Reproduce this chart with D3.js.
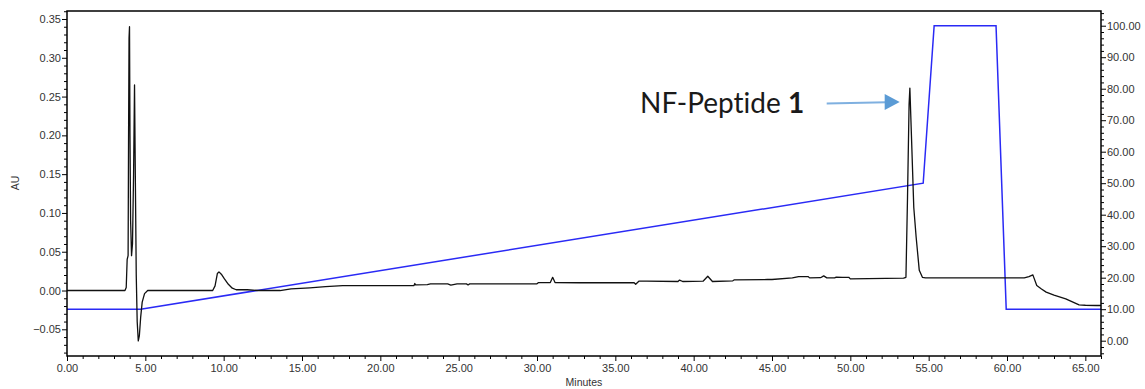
<!DOCTYPE html>
<html>
<head>
<meta charset="utf-8">
<script src="https://cdn.jsdelivr.net/npm/d3@7"></script>
<style>
  html, body { margin: 0; padding: 0; background: #fff; }
  svg { display: block; }
  .tick text { font-family: "Liberation Sans", Arial, sans-serif; font-size: 11px; fill: #333; }
</style>
</head>
<body>
<svg id="chart" width="1145" height="389"></svg>
<script>
// ---------------- DATA ----------------
// UV trace (AU) vs retention time (minutes)
const traceTime = [0, 3.70, 3.78, 3.84, 3.90, 3.93, 3.96, 3.99, 4.02, 4.06, 4.12, 4.18, 4.25, 4.31, 4.36, 4.42, 4.48, 4.55, 4.62, 4.70, 4.80, 4.95, 5.15,
  9.30, 9.45, 9.60, 9.70, 9.85, 10.05, 10.30, 10.55, 10.80, 11.50, 12.20, 13.60, 14.30, 15.50, 16.50, 17.60,
  22.15, 22.20, 22.25, 23.00, 23.20, 24.30, 24.50, 24.90, 25.50, 25.60, 25.70, 30.00, 30.10, 30.85, 31.00, 31.15, 32.70,
  36.20, 36.30, 36.50, 37.00, 39.00, 39.10, 39.30, 40.60, 40.90, 41.20, 42.50, 42.60, 44.50, 44.70, 45.00, 46.30, 46.70, 47.30, 47.40,
  48.10, 48.30, 48.50, 49.00, 49.10, 49.50, 49.90, 50.00, 53.40, 53.55, 53.65, 53.75, 53.80, 53.90, 54.05, 54.20, 54.40, 54.60, 54.80,
  61.10, 61.40, 61.65, 61.90, 62.20, 62.50, 63.00, 63.75, 64.60, 65.00, 65.70, 66.00];
const traceAU = [0, 0, 0.004, 0.040, 0.045, 0.200, 0.325, 0.340, 0.200, 0.090, 0.045, 0.060, 0.150, 0.265, 0.150, 0.020, -0.040, -0.065, -0.058, -0.035, -0.015, -0.004, 0,
  0, 0.006, 0.022, 0.024, 0.021, 0.015, 0.008, 0.003, 0.001, 0.001, 0, 0, 0.002, 0.0035, 0.005, 0.0064,
  0.0064, 0.0090, 0.0072, 0.0075, 0.0086, 0.0086, 0.0070, 0.0086, 0.0086, 0.0072, 0.0086, 0.0086, 0.0103, 0.0103, 0.0170, 0.0103, 0.0100,
  0.0100, 0.0080, 0.0120, 0.0120, 0.0116, 0.0135, 0.0116, 0.0120, 0.0184, 0.0116, 0.0125, 0.0138, 0.0140, 0.0142, 0.0142, 0.0163, 0.0180, 0.0180, 0.0163,
  0.0165, 0.0189, 0.0163, 0.0163, 0.0172, 0.0170, 0.0170, 0.0150, 0.0159, 0.0170, 0.1200, 0.2400, 0.2610, 0.2000, 0.1070, 0.0690, 0.0260, 0.0170, 0.0164,
  0.0164, 0.0180, 0.0202, 0.0064, 0.0020, -0.0021, -0.0060, -0.0107, -0.0184, -0.0190, -0.0193, -0.0193];

// Solvent gradient (%B) vs time
const gradTime = [0, 4.70, 54.65, 55.35, 59.30, 59.95, 66.00];
const gradPct  = [10, 10, 50, 100, 100, 10, 10];

// Axes
const xMajorTicks = [0, 5, 10, 15, 20, 25, 30, 35, 40, 45, 50, 55, 60, 65];
const yLeftTicks  = [-0.05, 0.00, 0.05, 0.10, 0.15, 0.20, 0.25, 0.30, 0.35];
const yRightTicks = [0, 10, 20, 30, 40, 50, 60, 70, 80, 90, 100];
const xTitle = "Minutes";
const yLeftTitle = "AU";

// Annotation
const annotText = "NF-Peptide ";
const annotBold = "1";
const annotTipTime = 53.15, annotTipAU = 0.243;

// ---------------- CHART ----------------
const svg = d3.select("#chart");
const L = 67, R = 1101, T = 11, B = 356;

const x  = d3.scaleLinear().domain([0, 66]).range([L, R]);
const yL = d3.scaleLinear().domain([-0.0844, 0.3603]).range([B, T]);
const yR = d3.scaleLinear().domain([-4.86, 104.67]).range([B, T]);

const minorX = d3.range(0, 67, 1).filter(v => v % 5 !== 0);
const minorYL = d3.range(-8, 37, 1).map(v => v / 100).filter(v => Math.round(v * 100) % 5 !== 0);
const minorYR = d3.range(-4, 105, 2).filter(v => v % 10 !== 0);

// minor ticks
svg.append("g").attr("transform", `translate(0,${B})`)
  .call(d3.axisBottom(x).tickValues(minorX).tickSize(3).tickFormat(""))
  .call(g => g.select(".domain").remove());
svg.append("g").attr("transform", `translate(${L},0)`)
  .call(d3.axisLeft(yL).tickValues(minorYL).tickSize(3).tickFormat(""))
  .call(g => g.select(".domain").remove());
svg.append("g").attr("transform", `translate(${R},0)`)
  .call(d3.axisRight(yR).tickValues(minorYR).tickSize(3).tickFormat(""))
  .call(g => g.select(".domain").remove());

// major ticks
svg.append("g").attr("transform", `translate(0,${B})`)
  .call(d3.axisBottom(x).tickValues(xMajorTicks).tickSize(5).tickPadding(3).tickFormat(d3.format(".2f")))
  .call(g => g.select(".domain").remove());
svg.append("g").attr("transform", `translate(${L},0)`)
  .call(d3.axisLeft(yL).tickValues(yLeftTicks).tickSize(5).tickPadding(1).tickFormat(d3.format(".2f")))
  .call(g => g.select(".domain").remove());
svg.append("g").attr("transform", `translate(${R},0)`)
  .call(d3.axisRight(yR).tickValues(yRightTicks).tickSize(5).tickPadding(1).tickFormat(d3.format(".2f")))
  .call(g => g.select(".domain").remove());

// gradient line (blue)
svg.append("path")
  .datum(gradTime.map((t, i) => [t, gradPct[i]]))
  .attr("fill", "none")
  .attr("stroke", "#2a2af5")
  .attr("stroke-width", 1.5)
  .attr("d", d3.line().x(d => x(d[0])).y(d => yR(d[1])));

// UV trace (black)
svg.append("path")
  .datum(traceTime.map((t, i) => [t, traceAU[i]]))
  .attr("fill", "none")
  .attr("stroke", "#111")
  .attr("stroke-width", 1.3)
  .attr("stroke-linejoin", "round")
  .attr("d", d3.line().x(d => x(d[0])).y(d => yL(d[1])));

// frame
svg.append("rect")
  .attr("x", L).attr("y", T).attr("width", R - L).attr("height", B - T)
  .attr("fill", "none").attr("stroke", "#000").attr("stroke-width", 1.5);

// axis titles
svg.append("text")
  .attr("x", (L + R) / 2 + 0).attr("y", 386)
  .attr("text-anchor", "middle")
  .style("font-family", "Liberation Sans, Arial, sans-serif").style("font-size", "10.5px").style("fill", "#333")
  .text(xTitle);
svg.append("text")
  .attr("transform", `translate(19,183) rotate(-90)`)
  .attr("text-anchor", "middle")
  .style("font-family", "Liberation Sans, Arial, sans-serif").style("font-size", "10.5px").style("fill", "#333")
  .text(yLeftTitle);

// annotation
const tipX = x(annotTipTime), tipY = yL(annotTipAU);
const t = svg.append("text")
  .attr("x", 640).attr("y", 113)
  .style("font-family", "Lato, 'Open Sans', sans-serif").style("font-size", "28px").style("fill", "#1a1a1a")
  .style("font-variant-ligatures", "none").style("font-feature-settings", "'liga' 0")
  .text(annotText);
t.append("tspan").style("font-weight", "bold").text(annotBold);

svg.append("line")
  .attr("x1", tipX - 73).attr("y1", tipY + 1.6)
  .attr("x2", tipX - 13).attr("y2", tipY + 0.3)
  .attr("stroke", "#7fb0e0").attr("stroke-width", 2);
svg.append("path")
  .attr("d", `M${tipX},${tipY} L${tipX - 15},${tipY - 8} L${tipX - 15},${tipY + 8} Z`)
  .attr("fill", "#5b9bd5");
</script>
</body>
</html>
